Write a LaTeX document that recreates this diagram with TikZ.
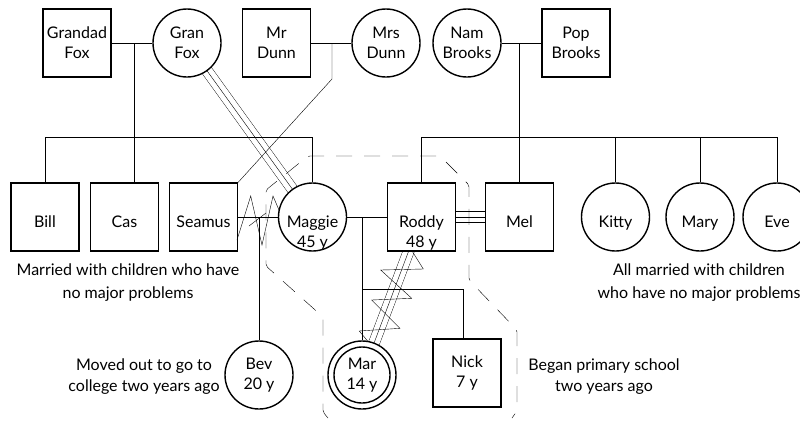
\documentclass[tikz,border=0pt]{standalone}
\usepackage{fontspec}
\setmainfont{Lato}
\usetikzlibrary{calc,backgrounds}
\begin{document}
\begin{tikzpicture}[x=1pt,y=-1pt,
  line width=1.4pt,
  every node/.style={font=\fontsize{16}{20}\selectfont},
  male/.style={draw, fill=white, rectangle, minimum width=68pt, minimum height=68pt, inner sep=0pt, align=center},
  female/.style={draw, fill=white, circle, minimum size=68pt, inner sep=0pt, align=center},
  mid/.style={text height=22pt, text depth=2pt},
  txt/.style={align=center, inner sep=0pt},
  triple/.style={double, double distance=10.6pt},
  boundary/.style={dash pattern=on 16pt off 12pt},
  zig/.style={line join=miter},
]
\useasboundingbox (0,0) rectangle (800,424);
\clip (0,0) rectangle (800,424);

% top generation
\node[male] (grandad) at (77,43) {Grandad\\Fox};
\node[female] (granfox) at (187,43) {Gran\\Fox};
\node[male] (mrdunn) at (276.5,43) {Mr\\Dunn};
\node[female] (mrsdunn) at (386,43) {Mrs\\Dunn};
\node[female] (nam) at (467,43) {Nam\\Brooks};
\node[male] (pop) at (576,43) {Pop\\Brooks};

% middle generation
\node[male,mid] (bill) at (45,217) {Bill};
\node[male,mid] (cas) at (124.5,217) {Cas};
\node[male,mid] (seamus) at (203.5,217) {Seamus};
\node[female,mid] (maggie) at (312.5,217) {Maggie};
\node[male,mid] (roddy) at (421.5,217) {Roddy};
\node[male,mid] (mel) at (519.5,217) {Mel};
\node[female,mid] (kitty) at (615.5,217) {Kitty};
\node[female,mid] (mary) at (700,217) {Mary};
\node[female,mid] (eve) at (777,217) {Eve};
\node[txt, anchor=base] (maggieage) at (312.5,247) {45 y};
\node[txt, anchor=base] (roddyage) at (421.5,247) {48 y};

% children
\node[female] (bev) at (259,375) {Bev\\20 y};
\node[female] (mar) at (362,375) {Mar\\14 y};
\node[male] (nick) at (467,373) {Nick\\7 y};
\draw (mar.center) circle[radius=28pt];

% coordinates
\coordinate (foxm) at (134,43);
\coordinate (foxs) at (134,137);
\coordinate (dunnm) at (332,43);
\coordinate (dunnk) at (332,79);
\coordinate (brooksm) at (519,43);
\coordinate (brookss) at (519,137);
\coordinate (sm) at (259,217);
\coordinate (mr) at (362,217);
\coordinate (mrs) at (362,289);
\coordinate (nickd) at (463,289);

% relationship lines (background)
\begin{pgfonlayer}{background}
\draw[triple] (granfox.center) -- (maggie.center);
\draw (granfox.center) -- (maggie.center);
\draw[triple] (roddy.center) -- (mel.center);
\draw (roddy.center) -- (mel.center);
\draw[triple] (roddy.center) -- (mar.center);
\draw (roddy.center) -- (mar.center);
\end{pgfonlayer}

% family lines
\draw (grandad) -- (granfox);
\draw (foxm) -- (foxm |- cas.north);
\draw (bill.north) -- (bill.north |- foxs) -- (maggie.north |- foxs) -- (maggie.north);
\draw (mrdunn) -- (mrsdunn);
\draw (dunnm) -- (dunnk) -- (seamus.north east);
\draw (nam) -- (pop);
\draw (brooksm) -- (brookss);
\draw (roddy.north) -- (roddy.north |- brookss) -- (eve.north |- brookss) -- (eve.north);
\foreach \n in {mel,kitty,mary} \draw (\n.north) -- (\n.north |- brookss);
\draw (seamus) -- (maggie);
\draw (sm) -- (bev.north);
\draw (maggie) -- (roddy);
\draw (mr) -- (mrs) -- (nickd) -- (nickd |- nick.north);
\draw (mrs) -- (mar.north);

% conflict zigzags and divorce mark
\draw[zig] (237,240) -- (250.7,196) -- (262,245) -- (273,196) -- (279,210);
\draw (249,226) -- (266,213);
\draw[zig] (412.7,252) -- (423.3,269) -- (380.7,270) -- (411.7,298.3) -- (371.7,300) -- (400,328.3) -- (359.3,331) -- (368,341.5);

% household boundary
\draw[boundary, rounded corners=2pt] (328,418) -- (323,412) -- (323,317) -- (266,266) -- (266,190) -- (308,156) -- (440,156) -- (469,185) -- (469,280) -- (517,330) -- (517,411) -- (512,418);

% notes
\node[txt, font=\fontsize{16}{23}\selectfont] (note1) at (128,283) {Married with children who have\\no major problems};
\node[txt, font=\fontsize{16}{23}\selectfont] (note2) at (699,283) {All married with children\\who have no major problems};
\node[txt, font=\fontsize{16}{21}\selectfont] (note3) at (144,377) {Moved out to go to\\college two years ago};
\node[txt, font=\fontsize{16}{21}\selectfont] (note4) at (604,377) {Began primary school\\two years ago};
\end{tikzpicture}
\end{document}
